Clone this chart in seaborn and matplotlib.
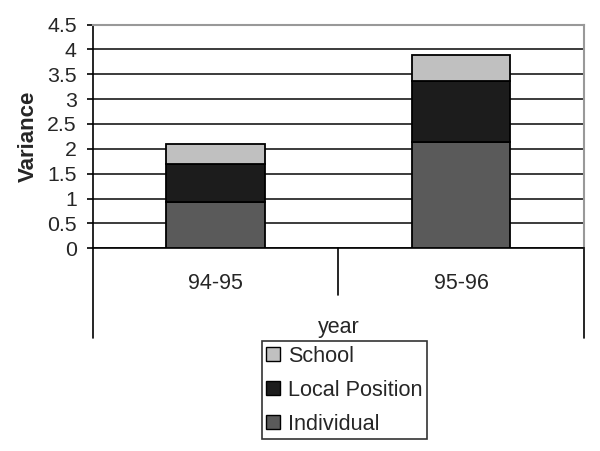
import matplotlib
matplotlib.use("Agg")
import matplotlib.pyplot as plt
import matplotlib.transforms as mtransforms
from matplotlib.patches import Patch
import numpy as np
import pandas as pd
import seaborn as sns

years = ["94-95", "95-96"]
individual = [0.93, 2.13]
local_position = [0.76, 1.23]
school = [0.41, 0.52]
series_names = ["Individual", "Local Position", "School"]
series_colors = ["#5a5a5a", "#1c1c1c", "#c0c0c0"]
y_ticks = [0, 0.5, 1, 1.5, 2, 2.5, 3, 3.5, 4, 4.5]

sns.set_style("white")
plt.rcParams["font.family"] = ["Liberation Sans", "DejaVu Sans"]

fig = plt.figure(figsize=(6.0, 4.51), dpi=100)
ax = fig.add_axes([0.1545, 0.4494, 0.8188, 0.4962])

df = pd.DataFrame({"year": years, "Individual": individual,
                   "Local Position": local_position, "School": school})
bottom = np.zeros(len(years))
for name, col in zip(series_names, series_colors):
    sns.barplot(data=df, x="year", y=name, bottom=bottom, color=col,
                edgecolor="black", linewidth=1.3, width=0.4, ax=ax,
                saturation=1, zorder=3)
    bottom = bottom + df[name].to_numpy()

ax.set_ylim(0, 4.5)
ax.set_xlim(-0.5, 1.5)
ax.set_yticks(y_ticks)
ax.set_yticklabels([f"{t:g}" for t in y_ticks])
ax.yaxis.grid(True, color="#1a1a1a", linewidth=1.2)
ax.set_axisbelow(True)
ax.yaxis.get_gridlines()[-1].set_visible(False)

for s in ["left", "bottom"]:
    ax.spines[s].set_color("black")
    ax.spines[s].set_linewidth(1.2)
for s in ["top", "right"]:
    ax.spines[s].set_color("#999999")
    ax.spines[s].set_linewidth(1.5)

ax.tick_params(axis="y", length=4.5, width=1.2, color="black", pad=7,
               labelsize=15.3, left=True)
ax.tick_params(axis="x", length=0, pad=17.5, labelsize=15.5)

ax.set_ylabel("Variance", fontsize=16, fontweight="bold", labelpad=6)
ax.set_xlabel("year", fontsize=15.5)
ax.xaxis.set_label_coords(0.5, -0.352)
ax.xaxis.label.set_va("center")

# category box lines below the axis
trans = mtransforms.blended_transform_factory(ax.transData, ax.transAxes)
for xv, ylow in [(-0.5, -0.40), (0.5, -0.21), (1.5, -0.40)]:
    ax.plot([xv, xv], [0, ylow], color="black", linewidth=1.2,
            transform=trans, clip_on=False)

handles = [Patch(facecolor=c, edgecolor="black", linewidth=1.0, label=n)
           for n, c in zip(series_names, series_colors)][::-1]
leg = fig.legend(handles=handles, loc="upper left",
                 bbox_to_anchor=(0.4365, 0.2435), fontsize=15.6,
                 frameon=True, fancybox=False, edgecolor="black",
                 handlelength=0.62, handleheight=0.62, handletextpad=0.4,
                 labelspacing=0.6, borderpad=0.2, borderaxespad=0)
leg.get_frame().set_linewidth(1.2)

fig.savefig("out.png", dpi=100)
